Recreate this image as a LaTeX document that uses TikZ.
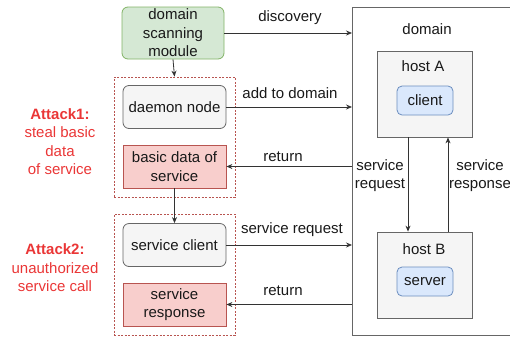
\documentclass[tikz,border=0pt]{standalone}
\usepackage{fontspec}
\setmainfont{Liberation Sans}
\usetikzlibrary{arrows.meta}
\newcommand\lblfont{\fontsize{15}{18.5}\selectfont}
\definecolor{greenfill}{HTML}{D5E8D4}
\definecolor{greenline}{HTML}{82B366}
\definecolor{grayfill}{HTML}{F5F5F5}
\definecolor{grayline}{HTML}{666666}
\definecolor{redfill}{HTML}{F8CECC}
\definecolor{redline}{HTML}{B85450}
\definecolor{bluefill}{HTML}{DAE8FC}
\definecolor{blueline}{HTML}{6C8EBF}
\definecolor{attackred}{RGB}{234,54,54}
\definecolor{wire}{HTML}{333333}
\begin{document}
\begin{tikzpicture}[x=1pt,y=-1pt,
  every node/.style={font=\lblfont, text=black!90, inner sep=0pt, align=center},
  box/.style={draw, line width=0.8pt, minimum width=#1},
  box/.default=103pt,
  greenbox/.style={box=102pt, fill=greenfill, draw=greenline, rounded corners=6pt, minimum height=52pt},
  graybox/.style={box, fill=grayfill, draw=grayline, rounded corners=6pt, minimum height=43pt},
  redbox/.style={box, fill=redfill, draw=redline, minimum height=43pt},
  group/.style={draw=redline, dash pattern=on 2pt off 1.5pt, line width=0.8pt, minimum width=121pt},
  hostbox/.style={box=95pt, fill=grayfill, draw=grayline, minimum height=86pt},
  bluebox/.style={box=56pt, fill=bluefill, draw=blueline, rounded corners=5pt, minimum height=29pt},
  arr/.style={draw=wire, line width=0.8pt, -{Stealth[length=6pt,width=5pt]}},
  attack/.style={text=attackred}
]
\useasboundingbox (0,0) rectangle (510,338);
\clip (0,0) rectangle (510,338);

% the domain and its two hosts
\node[draw=grayline, line width=0.8pt, fill=white, minimum width=180pt, minimum height=328pt, anchor=north west] (dom) at (352,7) {};
\node (domlbl) at (427,29) {domain};
\node[hostbox] (hostA) at (424.5,94) {};
\node (hostAlbl) at (423,66) {host A};
\node[bluebox] (cli) at (425,100.5) {client};
\node[hostbox] (hostB) at (424.5,275) {};
\node (hostBlbl) at (424,249) {host B};
\node[bluebox] (srv) at (425,281.5) {server};

% attacker side
\node[greenbox] (scan) at (173,33) {domain\\scanning\\module};
\node[group, minimum height=120pt] (grp1) at (174.5,137) {};
\node[group, minimum height=121pt] (grp2) at (174.5,274.5) {};
\node[graybox] (daemon) at (174.5,107) {daemon node};
\node[redbox] (basic) at (174.5,166.5) {basic data of\\service};
\node[graybox] (sclient) at (174.5,245) {service client};
\node[redbox] (sresp) at (174.5,304.5) {service\\response};

% attack labels
\node[attack] (att1) at (60,141.5) {\textbf{Attack1:}\\steal basic\\data\\of service};
\node[attack] (att2) at (55,268) {\textbf{Attack2:}\\unauthorized\\service call};

% connectors
\draw[arr] (scan.south) -- (grp1.north);
\draw[arr] (basic.south) -- (sclient.north);
\draw[arr] (scan.east) -- (scan.east -| dom.west);
\draw[arr] (daemon.east) -- (daemon.east -| dom.west);
\draw[arr] (dom.west |- basic.east) -- (basic.east);
\draw[arr] (sclient.east) -- (sclient.east -| dom.west);
\draw[arr] (dom.west |- sresp.east) -- (sresp.east);

\coordinate (reqx) at (408,0);
\coordinate (respx) at (448,0);
\draw[arr] (reqx |- hostA.south) -- (reqx |- hostB.north);
\draw[arr] (respx |- hostB.north) -- (respx |- hostA.south);

% connector labels
\node (lblDisc) at (290,18) {discovery};
\node (lblAdd) at (290,93) {add to domain};
\node (lblRet1) at (283,157) {return};
\node (lblReq) at (292,230) {service request};
\node (lblRet2) at (283,291) {return};
\node (lblHreq) at (380,175.5) {service\\request};
\node (lblHresp) at (480,175.5) {service\\response};
\end{tikzpicture}
\end{document}
